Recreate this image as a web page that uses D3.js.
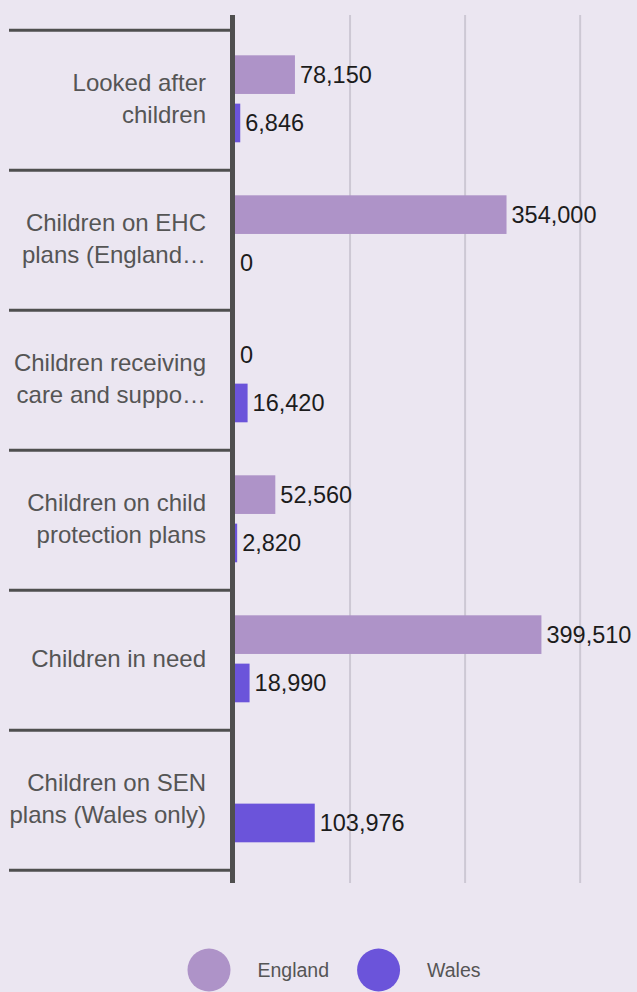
<!DOCTYPE html>
<html>
<head>
<meta charset="utf-8">
<script src="https://cdn.jsdelivr.net/npm/d3@7"></script>
<style>
  html, body { margin: 0; padding: 0; background: #ebe6f1; }
  svg { display: block; font-family: "Liberation Sans", Arial, sans-serif; }
</style>
</head>
<body>
<div id="chart"></div>
<script>
// data
const categories = [
  "Looked after children",
  "Children on EHC plans (England\u2026",
  "Children receiving care and suppo\u2026",
  "Children on child protection plans",
  "Children in need",
  "Children on SEN plans (Wales only)"
];
const seriesNames = ["England", "Wales"];
const england = [78150, 354000, 0, 52560, 399510, null];
const wales = [6846, 0, 16420, 2820, 18990, 103976];
const gridTicks = [150000, 300000, 450000];
const colors = ["#ae93c8", "#6b54da"];

(function() {
  const width = 637;
  const height = 992;
  const axisTop = 15;
  const axisBottom = 883;

  const svg = d3.select("#chart").append("svg")
    .attr("width", width)
    .attr("height", height);

  const x = d3.scaleLinear()
    .domain([0, 500000])
    .range([235, 618.5]);

  const y0 = d3.scaleBand()
    .domain(categories)
    .range([30.3, 870.3]);

  // England / Wales inside each band
  const y1 = d3.scaleBand()
    .domain(seriesNames)
    .range([25, 112])
    .paddingInner(0.2);

  // gridlines
  svg.append("g")
    .selectAll("line")
    .data(gridTicks)
    .join("line")
      .attr("x1", d => x(d))
      .attr("x2", d => x(d))
      .attr("y1", axisTop)
      .attr("y2", axisBottom)
      .attr("stroke", "#cdc8d4")
      .attr("stroke-width", 2);

  // category separators
  const seps = categories.map(c => y0(c)).concat([y0.range()[1]]);
  svg.append("g")
    .selectAll("line")
    .data(seps)
    .join("line")
      .attr("x1", 9)
      .attr("x2", 232)
      .attr("y1", d => d)
      .attr("y2", d => d)
      .attr("stroke", "#4f4f4f")
      .attr("stroke-width", 3);

  // bars
  const rows = [];
  categories.forEach((c, i) => {
    rows.push({cat: c, s: "England", v: england[i]});
    rows.push({cat: c, s: "Wales", v: wales[i]});
  });
  const shown = rows.filter(d => d.v !== null);

  svg.append("g")
    .selectAll("rect")
    .data(shown)
    .join("rect")
      .attr("x", x(0))
      .attr("y", d => y0(d.cat) + y1(d.s))
      .attr("width", d => x(d.v) - x(0))
      .attr("height", y1.bandwidth())
      .attr("fill", d => colors[seriesNames.indexOf(d.s)]);

  // value labels
  svg.append("g")
    .selectAll("text")
    .data(shown)
    .join("text")
      .attr("x", d => x(d.v) + 5)
      .attr("y", d => y0(d.cat) + y1(d.s) + y1.bandwidth() / 2 + 8.5)
      .attr("font-size", "23.5px")
      .attr("fill", "#1c1c1c")
      .text(d => d3.format(",")(d.v));

  // vertical axis line
  svg.append("line")
    .attr("x1", 232.5)
    .attr("x2", 232.5)
    .attr("y1", axisTop)
    .attr("y2", axisBottom)
    .attr("stroke", "#4f4f4f")
    .attr("stroke-width", 5);

  // category labels, wrapped
  const labels = svg.append("g")
    .selectAll("text")
    .data(categories)
    .join("text")
      .attr("text-anchor", "end")
      .attr("font-size", "24px")
      .attr("fill", "#555555");

  labels.each(function(c) {
    const t = d3.select(this);
    const words = c.split(" ");
    let lines = [];
    let line = [];
    const probe = t.append("tspan");
    words.forEach(w => {
      line.push(w);
      probe.text(line.join(" "));
      if (probe.node().getComputedTextLength() > 202 && line.length > 1) {
        line.pop();
        lines.push(line.join(" "));
        line = [w];
      }
    });
    lines.push(line.join(" "));
    probe.remove();
    const mid = y0(c) + y0.bandwidth() / 2 + 6.4;
    lines.forEach((l, i) => {
      t.append("tspan")
        .attr("x", 206)
        .attr("y", mid + (i - (lines.length - 1) / 2) * 31.8)
        .text(l);
    });
  });

  // legend
  const legend = svg.append("g");
  let lx = 187.5;
  seriesNames.forEach((s, i) => {
    legend.append("circle")
      .attr("cx", lx + 21.5)
      .attr("cy", 970)
      .attr("r", 21.5)
      .attr("fill", colors[i]);
    const txt = legend.append("text")
      .attr("x", lx + 70)
      .attr("y", 977)
      .attr("font-size", "19.5px")
      .attr("fill", "#555555")
      .text(s);
    lx = lx + 70 + txt.node().getComputedTextLength() + 28;
  });
})();
</script>
</body>
</html>
